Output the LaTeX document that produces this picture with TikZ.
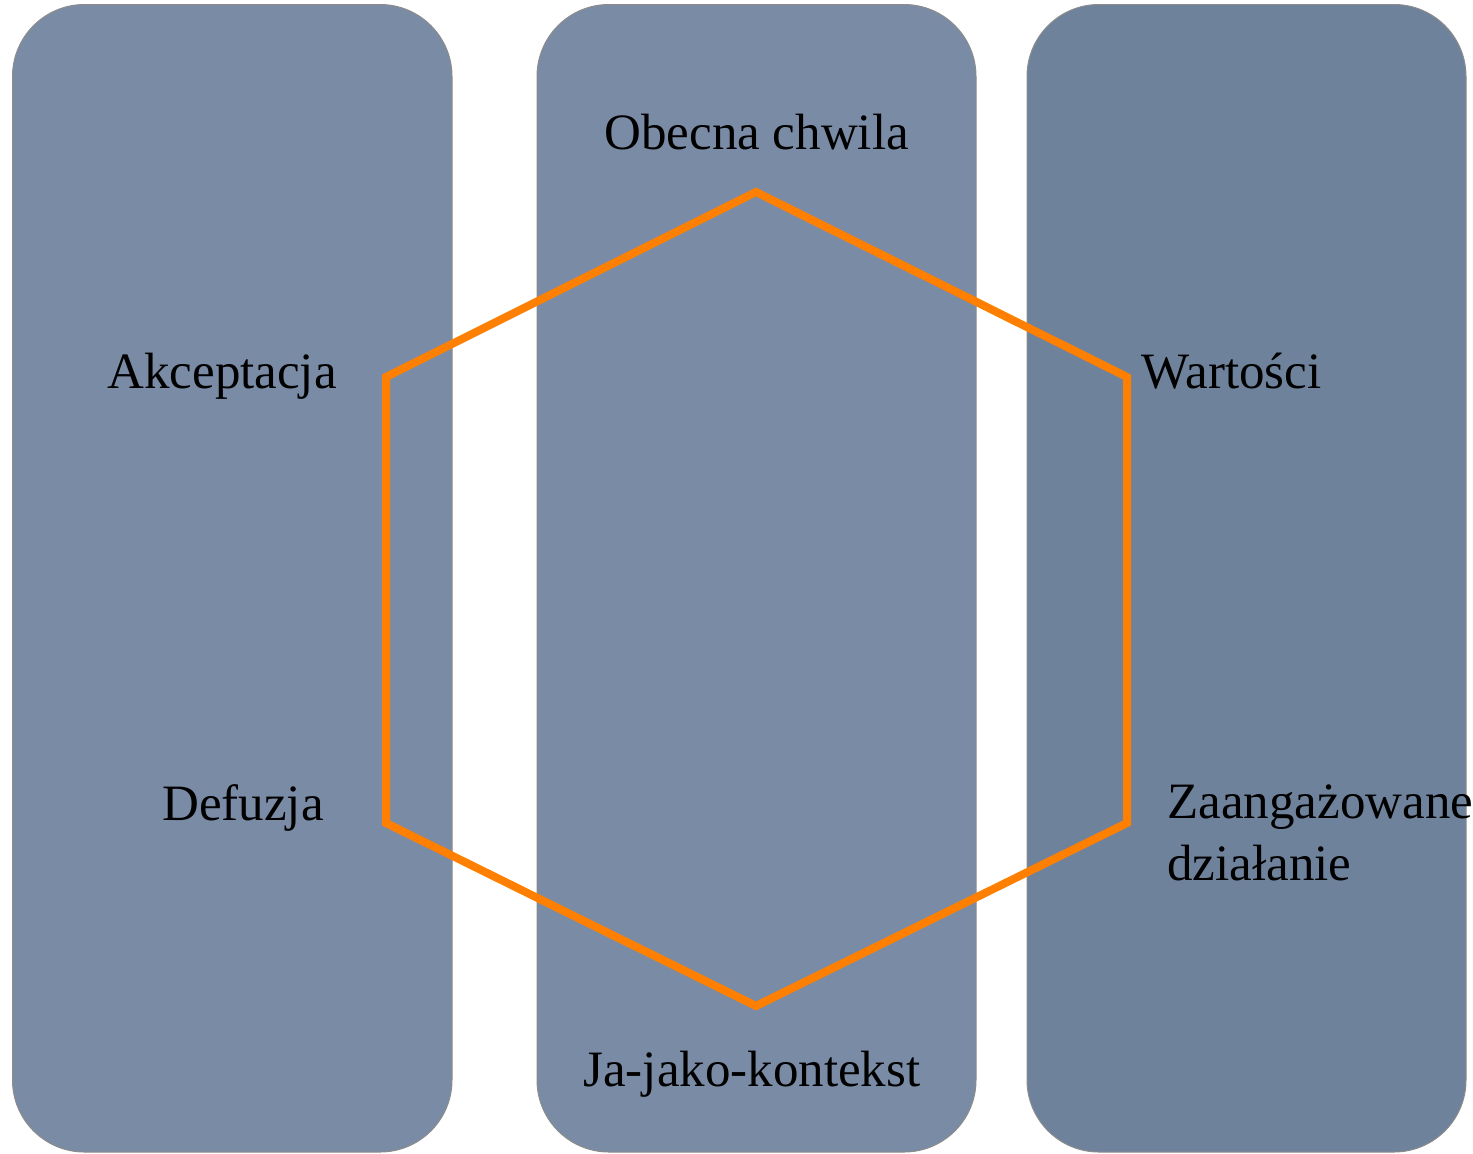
\documentclass[tikz,border=0pt]{standalone}
\usepackage{fontspec}
\setmainfont{Liberation Serif}
\definecolor{panelA}{HTML}{7A8BA5}
\definecolor{panelB}{HTML}{6F829C}
\definecolor{hexline}{HTML}{FF8000}
\tikzset{
  panel/.style={draw=black!45, line width=0.5pt, rounded corners=36pt},
  label/.style={anchor=base west, inner sep=0pt, font=\fontsize{25.5}{31}\selectfont, text=black},
  hexagon/.style={draw=hexline, line width=4pt, line join=miter}
}
\begin{document}
\begin{tikzpicture}[x=0.5pt, y=-0.5pt]
  \useasboundingbox (0,0) rectangle (1473,1153);
  % three vertical panels
  \path[panel, fill=panelA] (12.5,4.5) rectangle (452,1152);
  \path[panel, fill=panelA] (537,4.5) rectangle (976,1152);
  \path[panel, fill=panelB] (1027,4.5) rectangle (1466,1152);

  % corners of the hexagon
  \coordinate (h1) at (756,192);
  \coordinate (h2) at (1127,377);
  \coordinate (h3) at (1127,823);
  \coordinate (h4) at (756,1006);
  \coordinate (h5) at (386,823);
  \coordinate (h6) at (386,377);
  \draw[hexagon] (h1) -- (h2) -- (h3) -- (h4) -- (h5) -- (h6) -- cycle;

  % the six processes
  \node[label] (obecna) at (604,149) {Obecna chwila};
  \node[label] (akcept) at (107,388) {Akceptacja};
  \node[label] (wart) at (1141,388) {Wartości};
  \node[label] (defuz) at (162,820) {Defuzja};
  \node[label] (zaang) at (1167,818) {Zaangażowane};
  \node[label] (dzial) at (1167,880) {działanie};
  \node[label] (jajako) at (583,1086) {Ja-jako-kontekst};
\end{tikzpicture}
\end{document}
